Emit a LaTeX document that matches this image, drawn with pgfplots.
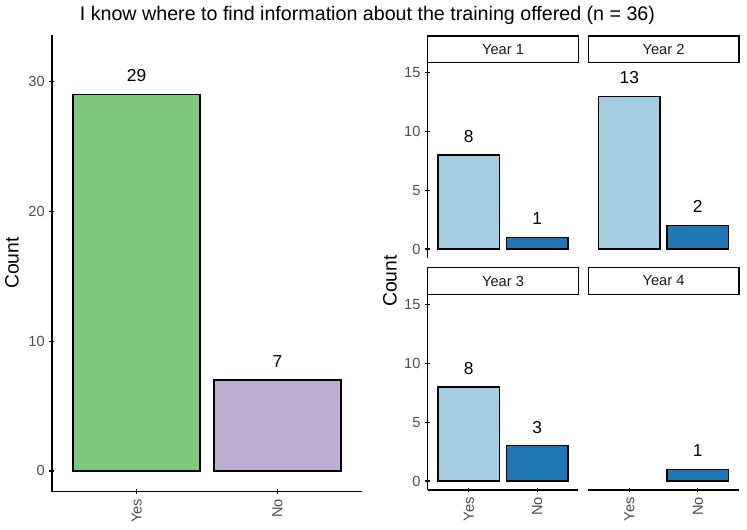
\documentclass[border=0pt]{standalone}
\usepackage{fontspec}
\setmainfont{Liberation Sans}
\usepackage{pgfplots}
\pgfplotsset{compat=1.18}

\definecolor{yesgreen}{HTML}{7FC97F}
\definecolor{nopurple}{HTML}{BEAED4}
\definecolor{yesblue}{HTML}{A6CEE3}
\definecolor{noblue}{HTML}{1F78B4}
\definecolor{grey30}{HTML}{4D4D4D}
\definecolor{grey10}{HTML}{1A1A1A}

\pgfplotsset{
  panel/.style={
    scale only axis,
    xmin=0.4, xmax=2.6,
    xtick={1,2}, xticklabels={Yes,No},
    x tick label style={rotate=90, anchor=east},
    tick align=outside,
    major tick length=3.75pt,
    tick style={black, line width=1pt},
    ticklabel style={font=\fontsize{11}{11}\selectfont, text=grey30},
    /pgf/number format/assume math mode=true,
  },
  plain lines/.style={axis line style={-, black, line width=1pt}},
  facet/.style={panel, width=112.95pt, ymin=-0.755, ymax=15.855, ytick={0,5,10,15}},
  cnt/.style={ybar, bar width=0.9, bar shift=0pt, draw=black, line width=1.1pt,
    nodes near coords,
    every node near coord/.append style={anchor=center, yshift=14pt,
      font=\fontsize{13}{13}\selectfont, text=black}},
}

\newcommand{\strip}[2]{%
  \draw[line width=1.1pt, fill=white] (#1.north west) rectangle ([yshift=19.9pt]#1.north east);
  \node[font=\fontsize{11}{11}\selectfont, text=grey10] at ([yshift=9.95pt]#1.north) {#2};}

\begin{document}
\begin{tikzpicture}
\path[use as bounding box] (0,0) rectangle (560.25pt,396.75pt);

% overall counts
\begin{axis}[panel, at={(39pt,27.98pt)}, anchor=south west,
  width=232.5pt, height=342.5pt,
  ymin=-1.6, ymax=33.6, ytick={0,10,20,30},
  axis x line=bottom, axis y line=left, plain lines]
\addplot[cnt, fill=yesgreen] coordinates {(1,29)};
\addplot[cnt, fill=nopurple] coordinates {(2,7)};
\end{axis}

% counts by year
\begin{axis}[facet, name=y1, at={(320.8pt,203.25pt)}, anchor=south west,
  height=146.5pt, axis x line=none, axis y line=left, plain lines]
\addplot[cnt, fill=yesblue] coordinates {(1,8)};
\addplot[cnt, fill=noblue] coordinates {(2,1)};
\end{axis}

\begin{axis}[facet, name=y2, at={(441.2pt,203.25pt)}, anchor=south west,
  height=146.5pt, axis lines=none]
\addplot[cnt, fill=yesblue] coordinates {(1,13)};
\addplot[cnt, fill=noblue] coordinates {(2,2)};
\end{axis}

\begin{axis}[facet, name=y3, at={(320.8pt,29.25pt)}, anchor=south west,
  height=146.8pt, axis x line=bottom, axis y line=left, plain lines]
\addplot[cnt, fill=yesblue] coordinates {(1,8)};
\addplot[cnt, fill=noblue] coordinates {(2,3)};
\end{axis}

\begin{axis}[facet, name=y4, at={(441.2pt,29.25pt)}, anchor=south west,
  height=146.8pt, axis x line=bottom, axis y line=none, plain lines]
\addplot[cnt, fill=noblue] coordinates {(2,1)};
\end{axis}

\strip{y1}{Year 1}
\strip{y2}{Year 2}
\strip{y3}{Year 3}
\strip{y4}{Year 4}

% titles
\node[anchor=base, font=\fontsize{14.75}{14.75}\selectfont] at (275.6pt,381.2pt)
  {I know where to find information about the training offered (n = 36)};
\node[rotate=90, font=\fontsize{14.5}{14.5}\selectfont] at (9pt,199.5pt) {Count};
\node[rotate=90, font=\fontsize{14.5}{14.5}\selectfont] at (292.5pt,186pt) {Count};
\end{tikzpicture}
\end{document}
